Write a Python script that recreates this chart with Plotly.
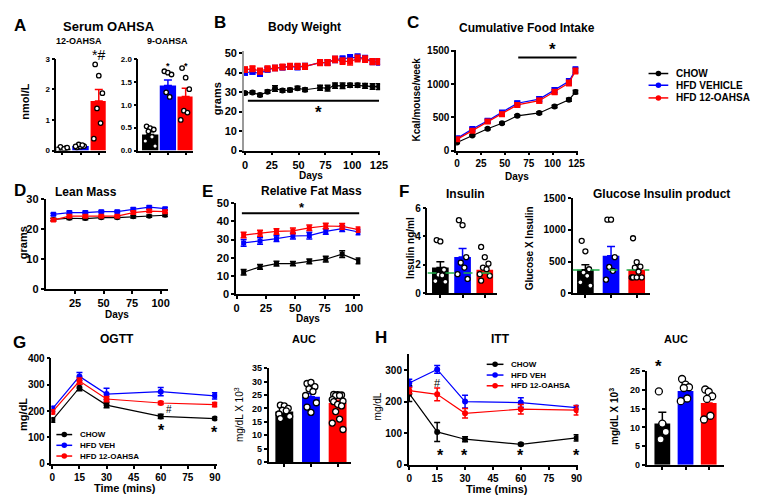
import plotly.graph_objects as go

W, H = 765, 496
FONT = "Liberation Sans, Arial, sans-serif"
BLACK, BLUE, RED = "#000000", "#0000FF", "#FF0000"
COLORS = [BLACK, BLUE, RED]
GROUPS = ["CHOW", "HFD VEHICLE", "HFD 12-OAHSA"]
GROUPS_SHORT = ["CHOW", "HFD VEH", "HFD 12-OAHSA"]

# ---- A: serum OAHSA (nmol/L)
a12_mean = [0.07, 0.15, 1.62]
a12_sem = [0.02, 0.02, 0.38]
a12_pts = [[0.02, 0.05, 0.08, 0.12, 0.06, 0.04, 0.10],
           [0.10, 0.13, 0.15, 0.20, 0.18, 0.14],
           [2.82, 2.45, 1.88, 1.38, 0.90, 0.39]]
a9_mean = [0.35, 1.42, 1.18]
a9_sem = [0.06, 0.12, 0.18]
a9_pts = [[0.53, 0.49, 0.46, 0.42, 0.30, 0.21, 0.10],
          [1.73, 1.70, 1.66, 1.27, 1.17],
          [1.80, 1.59, 1.34, 0.87, 0.83, 0.67]]

# ---- B: body weight (grams)
bw_days = [0, 7, 14, 21, 28, 35, 42, 49, 56, 70, 77, 84, 91, 98, 105, 112, 119, 125]
bw_chow = [29.5, 29.8, 28.5, 30.2, 31.8, 30.8, 31.0, 32.0, 31.2, 32.2, 32.0, 33.3, 33.2, 33.5, 33.5, 33.2, 32.8, 32.8]
bw_veh = [39.9, 40.4, 39.4, 41.5, 42.3, 42.7, 43.0, 42.8, 43.2, 45.1, 45.1, 46.7, 47.0, 47.6, 47.9, 47.2, 45.6, 45.4]
bw_oahsa = [41.5, 41.9, 40.7, 41.9, 42.3, 42.8, 43.2, 43.2, 43.2, 45.1, 45.1, 46.7, 45.9, 45.6, 47.2, 46.9, 45.6, 45.6]
bw_chow_sem = [0.7, 0.8, 0.8, 0.8, 1.4, 0.9, 0.9, 1.0, 0.9, 1.3, 1.5, 1.3, 1.4, 1.0, 1.0, 1.2, 1.4, 1.5]
bw_veh_sem = [1.2, 1.2, 1.3, 1.2, 1.3, 1.3, 1.3, 1.4, 1.4, 1.4, 1.4, 1.5, 1.5, 1.5, 1.6, 1.5, 1.5, 1.5]
bw_oahsa_sem = [1.3, 1.4, 1.5, 1.4, 1.4, 1.4, 1.5, 1.5, 1.5, 1.5, 1.5, 1.6, 1.6, 1.7, 1.7, 1.6, 1.5, 1.5]

# ---- C: cumulative food intake (kcal/mouse/week)
fi_days = [0, 16, 32, 47, 63, 86, 102, 117, 124]
fi_chow = [121, 227, 329, 411, 523, 566, 663, 765, 880]
fi_veh = [184, 324, 450, 571, 711, 774, 905, 1040, 1215]
fi_oahsa = [169, 300, 436, 547, 687, 750, 881, 1016, 1195]
fi_chow_sem = [10, 12, 14, 15, 15, 18, 20, 22, 25]
fi_veh_sem = [20, 22, 25, 28, 30, 35, 38, 40, 42]
fi_oahsa_sem = [20, 22, 25, 28, 30, 35, 38, 40, 42]

# ---- D/E: body composition
bc_days = [6, 20, 34, 48, 62, 76, 90, 104]
lean_chow = [23.3, 23.7, 23.6, 23.9, 23.9, 24.2, 24.4, 24.7]
lean_veh = [25.0, 25.6, 25.6, 25.9, 25.9, 26.7, 27.4, 26.9]
lean_oahsa = [23.1, 24.4, 24.4, 24.4, 24.4, 25.6, 26.1, 25.9]
lean_sem = [0.4, 0.4, 0.4, 0.4, 0.4, 0.4, 0.4, 0.4]
fat_chow = [12.0, 15.0, 16.8, 16.8, 18.0, 19.2, 22.0, 18.3]
fat_veh = [28.2, 29.3, 30.5, 32.0, 32.2, 34.5, 36.0, 34.2]
fat_oahsa = [32.5, 33.5, 34.5, 34.8, 36.5, 37.5, 37.3, 35.5]
fat_chow_sem = [1.5, 1.3, 1.3, 1.2, 1.3, 1.6, 1.8, 1.6]
fat_veh_sem = [1.8, 1.8, 1.6, 1.7, 1.8, 1.5, 1.6, 1.5]
fat_oahsa_sem = [1.5, 1.6, 1.5, 1.6, 1.5, 1.5, 1.6, 1.4]

# ---- F: insulin, glucose x insulin
ins_mean = [1.80, 2.55, 1.65]
ins_sem = [0.42, 0.60, 0.20]
ins_pts = [[3.75, 3.65, 1.65, 1.30, 1.25, 0.85, 0.80],
           [5.15, 4.80, 2.54, 2.15, 1.80, 1.34, 1.00],
           [3.26, 2.54, 2.08, 1.80, 1.69, 1.34, 1.22, 0.88]]
ins_ref = 1.42
gxi_mean = [370, 590, 370]
gxi_sem = [80, 150, 50]
gxi_pts = [[828, 662, 378, 326, 274, 171, 119],
           [1164, 1164, 569, 414, 352, 212],
           [869, 491, 419, 403, 341, 248, 248, 248, 248]]
gxi_ref = 365

# ---- G: OGTT (mg/dL)
gt_mins = [0, 15, 30, 60, 90]
ogtt_chow = [166, 289, 223, 180, 172]
ogtt_veh = [209, 332, 265, 274, 258]
ogtt_oahsa = [197, 314, 246, 231, 225]
ogtt_chow_sem = [8, 12, 10, 8, 5]
ogtt_veh_sem = [10, 15, 22, 16, 12]
ogtt_oahsa_sem = [8, 12, 10, 6, 8]
og_auc_mean = [18.8, 24.3, 22.0]
og_auc_sem = [0.6, 1.3, 1.0]
og_auc_pts = [[21.2, 20.9, 20.0, 19.3, 19.1, 17.9, 17.0, 16.2],
              [29.3, 29.7, 28.1, 27.3, 26.3, 24.8, 22.1, 20.5, 18.5],
              [25.2, 25.1, 25.0, 24.8, 24.8, 23.3, 22.7, 22.5, 21.5, 20.9, 18.8, 16.0, 14.5, 12.1]]

# ---- H: ITT (mg/dL)
itt_chow = [225, 104, 81, 65, 85]
itt_veh = [259, 302, 200, 197, 181]
itt_oahsa = [235, 223, 163, 176, 173]
itt_chow_sem = [25, 30, 8, 4, 10]
itt_veh_sem = [12, 12, 20, 15, 6]
itt_oahsa_sem = [10, 20, 15, 15, 15]
it_auc_mean = [11.0, 19.7, 16.5]
it_auc_sem = [3.0, 1.2, 1.6]
it_auc_pts = [[19.6, 11.0, 8.8, 6.8],
              [22.9, 21.4, 20.7, 20.5, 17.7, 17.0],
              [20.1, 19.5, 18.3, 17.6, 13.1, 12.1]]

fig = go.Figure()
anns, shapes = [], []
layout = {}


def px(x, y):
    return x / W, 1 - y / H


def axes(n, x0, x1, y0, y1, xr, yr, xticks, yticks, fsize=10, yfmt=None, xlabels=True, ycolor=BLACK):
    common = dict(showline=True, linecolor=BLACK, linewidth=1.5, ticks="outside", ticklen=3,
                  tickwidth=1.5, tickcolor=BLACK, showgrid=False, zeroline=False, fixedrange=True,
                  tickfont=dict(family=FONT, size=fsize, color=BLACK, weight="bold"))
    layout["xaxis%d" % n] = dict(common, domain=[x0 / W, x1 / W], range=xr, anchor="y%d" % n,
                                 tickvals=xticks, showticklabels=xlabels)
    ya = dict(common, domain=[1 - y1 / H, 1 - y0 / H], range=yr, anchor="x%d" % n, tickvals=yticks)
    ya["linecolor"] = ycolor
    if yfmt:
        ya["tickformat"] = yfmt
    layout["yaxis%d" % n] = ya


def txt(x, y, s, size=11, angle=0, weight="bold", anchor="center"):
    xx, yy = px(x, y)
    anns.append(dict(x=xx, y=yy, xref="paper", yref="paper", text=s, showarrow=False,
                     textangle=angle, xanchor=anchor, yanchor="middle",
                     font=dict(family=FONT, size=size, color=BLACK, weight=weight)))


def line_panel(n, x, series, sems, symbols, msize=6):
    for k in range(3):
        fig.add_trace(go.Scatter(
            x=x, y=series[k], mode="lines+markers", xaxis="x%d" % n, yaxis="y%d" % n,
            line=dict(color=COLORS[k], width=1.2),
            marker=dict(color=COLORS[k], size=msize, symbol=symbols[k]),
            error_y=dict(type="data", array=sems[k], color=COLORS[k], thickness=1.5, width=3),
            showlegend=False, hoverinfo="skip"))


def bar_panel(n, means, sems, pts, width, msize=5):
    for k in range(3):
        fig.add_trace(go.Bar(
            x=[k], y=[means[k]], width=width, xaxis="x%d" % n, yaxis="y%d" % n,
            marker=dict(color=COLORS[k], line=dict(width=0)),
            error_y=dict(type="data", array=[sems[k]], arrayminus=[0], symmetric=False,
                         color=COLORS[k], thickness=1.5, width=4),
            showlegend=False, hoverinfo="skip"))
    pattern = [-0.22, 0.0, 0.22, -0.11, 0.11, -0.3, 0.3]
    for k in range(3):
        xs = [k + pattern[i % len(pattern)] * width for i in range(len(pts[k]))]
        fig.add_trace(go.Scatter(
            x=xs, y=pts[k], mode="markers", xaxis="x%d" % n, yaxis="y%d" % n,
            marker=dict(color="white", size=msize, line=dict(color=BLACK, width=1.3)),
            showlegend=False, hoverinfo="skip"))


def legend_box(x0, ys, names, size, seg=18):
    for k, name in enumerate(names):
        xa, ya = px(x0, ys[k])
        xb, _ = px(x0 + seg, ys[k])
        shapes.append(dict(type="line", xref="paper", yref="paper", x0=xa, x1=xb, y0=ya, y1=ya,
                           line=dict(color=COLORS[k], width=1.5)))
        cx = x0 + seg / 2
        c0 = px(cx - 2.8, ys[k] + 2.8)
        c1 = px(cx + 2.8, ys[k] - 2.8)
        shapes.append(dict(type="circle", xref="paper", yref="paper", x0=c0[0], x1=c1[0],
                           y0=c0[1], y1=c1[1], fillcolor=COLORS[k], line=dict(color=COLORS[k], width=0)))
        txt(x0 + seg + 6, ys[k], name, size=size, anchor="left")


def sig_line(n, xa, xb, y):
    shapes.append(dict(type="line", xref="x%d" % n, yref="y%d" % n, x0=xa, x1=xb, y0=y, y1=y,
                       line=dict(color=BLACK, width=2)))


# A
axes(1, 47, 97, 46, 140, [-0.32, 2.38], [0, 3], [0, 1, 2], [0, 1, 2, 3], fsize=8, xlabels=False)
bar_panel(1, a12_mean, a12_sem, a12_pts, 0.9, msize=4.5)
axes(2, 130, 185, 46, 140, [-0.67, 2.39], [0, 2], [0, 1, 2], [0, 0.5, 1, 1.5, 2], fsize=8,
     yfmt=".1f", xlabels=False)
bar_panel(2, a9_mean, a9_sem, a9_pts, 0.92, msize=4.5)
txt(10, 12, "A", 17)
txt(100, 13, "Serum OAHSA", 13)
txt(70, 28, "12-OAHSA", 9)
txt(160, 28, "9-OAHSA", 9)
txt(15, 90, "nmol/L", 11, angle=-90)
txt(90, 42, "*#", 14, weight="normal")
txt(160, 53, "*", 9)
txt(178, 53, "*", 9)

# B
axes(3, 237, 375, 38, 140, [-1, 126], [0, 51], [0, 25, 50, 75, 100, 125], [0, 10, 20, 30, 40, 50],
     fsize=11, ycolor="#9a9a9a")
line_panel(3, bw_days, [bw_chow, bw_veh, bw_oahsa], [bw_chow_sem, bw_veh_sem, bw_oahsa_sem],
           ["circle", "square", "square"])
sig_line(3, 2.7, 125, 25.5)
txt(213, 9, "B", 17)
txt(298, 13, "Body Weight", 12)
txt(210, 87, "grams", 11, angle=-90)
txt(305, 165, "Days", 10)
txt(313, 101, "*", 17)

# C
axes(4, 452, 576, 37, 140, [-1, 127], [0, 1510], [0, 25, 50, 75, 100, 125], [0, 500, 1000, 1500],
     fsize=10)
line_panel(4, fi_days, [fi_chow, fi_veh, fi_oahsa], [fi_chow_sem, fi_veh_sem, fi_oahsa_sem],
           ["circle", "square", "square"])
sig_line(4, 64, 125, 1400)
txt(408, 9, "C", 17)
txt(524, 14, "Cumulative Food Intake", 12)
txt(412, 88, "Kcal/mouse/week", 10, angle=-90)
txt(514, 167, "Days", 10)
txt(550, 36, "*", 17)
legend_box(647, [61, 73, 86], GROUPS, 10, seg=20)

# D
axes(5, 36, 160, 190, 282, [-0.9, 106.4], [0, 30], [25, 50, 75, 100], [0, 10, 20, 30], fsize=11)
line_panel(5, bc_days, [lean_chow, lean_veh, lean_oahsa], [lean_sem, lean_sem, lean_sem],
           ["circle", "square", "square"], msize=5)
txt(10, 181, "D", 17)
txt(77, 182, "Lean Mass", 12)
txt(14, 234, "grams", 11, angle=-90)
txt(108, 308, "Days", 10)

# E
axes(6, 229, 355, 194, 287, [-0.5, 105.5], [0, 50], [0, 25, 50, 75, 100], [0, 10, 20, 30, 40, 50],
     fsize=11)
line_panel(6, bc_days, [fat_chow, fat_veh, fat_oahsa], [fat_chow_sem, fat_veh_sem, fat_oahsa_sem],
           ["square", "square", "square"], msize=5)
sig_line(6, 4.5, 104.5, 44.5)
txt(200, 182, "E", 17)
txt(305, 181, "Relative Fat Mass", 12)
txt(296, 198, "*", 13)
txt(302, 312, "Days", 10)

# F
axes(7, 423, 493, 199, 286, [-0.58, 2.53], [0, 6], [0, 1, 2], [0, 2, 4, 6], fsize=10, xlabels=False)
bar_panel(7, ins_mean, ins_sem, ins_pts, 0.75)
shapes.append(dict(type="line", xref="x7", yref="y7", x0=-0.58, x1=2.53, y0=ins_ref, y1=ins_ref,
                   line=dict(color="#1fae4a", width=1.5, dash="dash")))
axes(8, 570, 648, 189, 286, [-0.5, 2.5], [0, 1500], [0, 1, 2], [0, 500, 1000, 1500], fsize=10,
     xlabels=False)
bar_panel(8, gxi_mean, gxi_sem, gxi_pts, 0.65)
shapes.append(dict(type="line", xref="x8", yref="y8", x0=-0.5, x1=2.5, y0=gxi_ref, y1=gxi_ref,
                   line=dict(color="#1fae4a", width=1.5, dash="dash")))
txt(399, 182, "F", 17)
txt(462, 184, "Insulin", 12)
txt(660, 184, "Glucose Insulin product", 12)
txt(405, 240, "Insulin ng/ml", 10, angle=-90)
txt(526, 240, "Glucose X Insulin", 10, angle=-90)

# G
axes(9, 42, 210, 353, 461, [-0.5, 91.3], [0, 400], [0, 15, 30, 45, 60, 75, 90],
     [0, 100, 200, 300, 400], fsize=10)
line_panel(9, gt_mins, [ogtt_chow, ogtt_veh, ogtt_oahsa],
           [ogtt_chow_sem, ogtt_veh_sem, ogtt_oahsa_sem], ["circle", "circle", "circle"])
axes(10, 262, 346, 363, 459, [-0.59, 2.52], [0, 35], [0, 1, 2], [0, 5, 10, 15, 20, 25, 30, 35],
     fsize=9, xlabels=False)
bar_panel(10, og_auc_mean, og_auc_sem, og_auc_pts, 0.67, msize=6)
txt(10, 337, "G", 17)
txt(108, 333, "OGTT", 12)
txt(298, 333, "AUC", 11)
txt(13, 410, "mg/dL", 11, angle=-90)
txt(232, 410, "mg/dL X 10<sup>3</sup>", 10, angle=-90, weight="normal")
txt(117, 486, "Time (mins)", 11)
txt(161, 405, "#", 10, weight="normal")
txt(154, 427, "*", 16)
txt(207, 429, "*", 16)
legend_box(47, [431, 442, 453], GROUPS_SHORT, 8, seg=16)

# H
axes(11, 404, 576, 348, 462, [-0.3, 91], [0, 352], [0, 15, 30, 45, 60, 75, 90], [0, 100, 200, 300],
     fsize=10)
line_panel(11, gt_mins, [itt_chow, itt_veh, itt_oahsa], [itt_chow_sem, itt_veh_sem, itt_oahsa_sem],
           ["circle", "circle", "circle"])
axes(12, 645, 723, 366, 462, [-0.68, 2.64], [0, 25], [0, 1, 2], [0, 5, 10, 15, 20, 25], fsize=9,
     xlabels=False)
bar_panel(12, it_auc_mean, it_auc_sem, it_auc_pts, 0.68, msize=7)
txt(376, 332, "H", 17)
txt(497, 333, "ITT", 12)
txt(675, 333, "AUC", 11)
txt(372, 402, "mg/dL", 10, angle=-90, weight="normal")
txt(612, 413, "mg/dL X 10<sup>3</sup>", 10, angle=-90)
txt(493, 487, "Time (mins)", 11)
txt(433, 378, "#", 11, weight="normal")
for xpix in [436, 461, 517, 574]:
    txt(xpix, 452, "*", 16)
txt(657, 361, "*", 17)
legend_box(483, [359, 370, 381], GROUPS_SHORT, 8, seg=17)

fig.update_layout(layout)
fig.update_layout(width=W, height=H, margin=dict(l=0, r=0, t=0, b=0), barmode="overlay",
                  paper_bgcolor="white", plot_bgcolor="white", showlegend=False,
                  annotations=anns, shapes=shapes, font=dict(family=FONT, color=BLACK))
fig.write_html("out.html")
